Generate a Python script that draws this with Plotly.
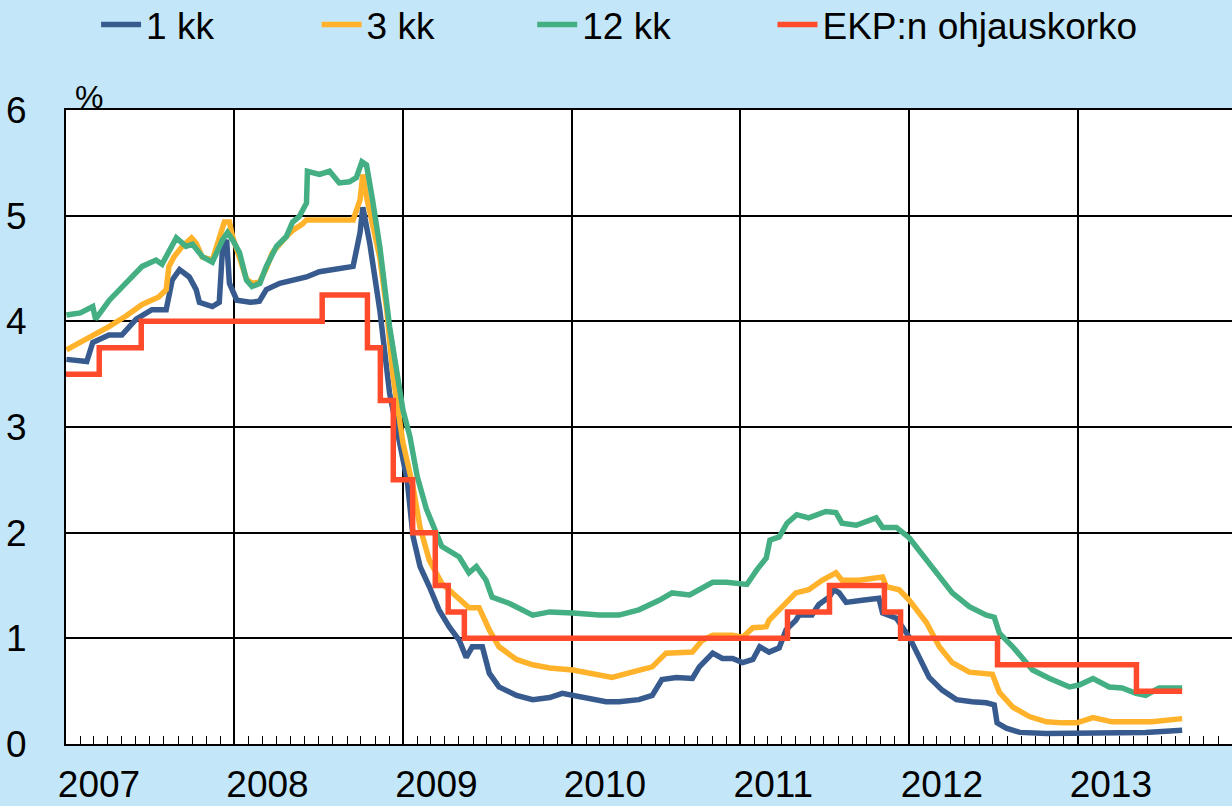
import plotly.graph_objects as go

# ---- data ----
d_1kk = ["2007-01-02","2007-02-15","2007-02-28","2007-04-04","2007-05-02","2007-06-02","2007-07-06","2007-08-06",
         "2007-08-19","2007-09-04","2007-09-25","2007-10-10","2007-10-17","2007-11-14","2007-11-29","2007-12-06",
         "2007-12-15","2007-12-21","2008-01-06","2008-02-04","2008-02-24","2008-03-10","2008-04-08","2008-05-06",
         "2008-06-05","2008-07-03","2008-08-09","2008-09-14","2008-09-29","2008-10-05","2008-10-20","2008-11-11",
         "2008-12-02","2008-12-24","2009-01-09","2009-01-22","2009-02-06","2009-02-26","2009-03-19","2009-04-10",
         "2009-05-02","2009-05-17","2009-05-30","2009-06-21","2009-07-06","2009-07-27","2009-09-03","2009-10-08",
         "2009-11-14","2009-12-11","2010-01-03","2010-02-03","2010-03-16","2010-04-13","2010-05-26","2010-06-24",
         "2010-07-15","2010-08-15","2010-09-19","2010-10-04","2010-11-02","2010-11-23","2010-12-15","2011-01-06",
         "2011-01-28","2011-02-12","2011-03-04","2011-03-26","2011-04-10","2011-05-01","2011-05-08","2011-06-05",
         "2011-06-20","2011-07-12","2011-07-23","2011-08-03","2011-08-18","2011-09-22","2011-10-28","2011-11-05",
         "2011-12-05","2012-01-02","2012-01-24","2012-02-14","2012-03-13","2012-04-13","2012-05-17","2012-06-17",
         "2012-07-04","2012-07-10","2012-07-30","2012-08-28","2012-10-25","2013-01-05","2013-03-16","2013-05-28",
         "2013-08-15"]
v_1kk = [3.64,3.62,3.80,3.87,3.87,4.02,4.11,4.11,
         4.39,4.49,4.42,4.30,4.18,4.14,4.18,4.68,
         4.77,4.36,4.20,4.18,4.19,4.30,4.36,4.39,
         4.42,4.47,4.49,4.52,4.84,5.08,4.74,4.10,
         3.32,2.81,2.50,1.96,1.68,1.49,1.27,1.11,
         0.98,0.82,0.92,0.92,0.67,0.54,0.46,0.42,
         0.44,0.48,0.46,0.44,0.40,0.40,0.42,0.46,
         0.61,0.63,0.62,0.73,0.86,0.81,0.81,0.77,
         0.80,0.92,0.87,0.91,1.08,1.17,1.22,1.22,
         1.32,1.39,1.46,1.43,1.34,1.36,1.38,1.24,
         1.19,1.01,0.80,0.63,0.51,0.42,0.40,0.39,
         0.37,0.20,0.15,0.11,0.10,0.10,0.11,0.11,
         0.13]

d_3kk = ["2007-01-02","2007-02-15","2007-04-04","2007-05-11","2007-06-15","2007-07-21","2007-08-06","2007-08-12",
         "2007-08-23","2007-09-10","2007-09-30","2007-10-10","2007-10-23","2007-11-14","2007-11-29","2007-12-10",
         "2007-12-21","2007-12-28","2008-01-12","2008-01-27","2008-02-08","2008-02-24","2008-03-10","2008-03-23",
         "2008-04-22","2008-05-06","2008-05-27","2008-06-05","2008-07-03","2008-09-14","2008-09-29","2008-10-05",
         "2008-10-13","2008-10-26","2008-11-11","2008-11-26","2008-12-09","2008-12-31","2009-01-22","2009-02-06",
         "2009-02-26","2009-03-25","2009-04-25","2009-05-23","2009-06-14","2009-07-06","2009-07-27","2009-09-03",
         "2009-10-08","2009-11-14","2010-01-03","2010-02-15","2010-03-29","2010-05-11","2010-06-24","2010-07-24",
         "2010-08-28","2010-09-19","2010-10-10","2010-11-02","2010-12-15","2011-01-06","2011-01-28","2011-02-26",
         "2011-03-04","2011-04-01","2011-05-01","2011-05-29","2011-06-27","2011-07-27","2011-08-09","2011-09-15",
         "2011-10-22","2011-11-05","2011-11-13","2011-12-11","2012-01-02","2012-02-08","2012-03-07","2012-04-04",
         "2012-05-11","2012-06-30","2012-07-15","2012-08-13","2012-09-18","2012-10-25","2012-11-29","2012-12-30",
         "2013-02-03","2013-03-16","2013-04-28","2013-06-11","2013-08-15"]
v_3kk = [3.73,3.83,3.95,4.05,4.16,4.23,4.30,4.52,
         4.61,4.71,4.79,4.74,4.61,4.58,4.77,4.94,
         4.94,4.80,4.60,4.40,4.36,4.37,4.50,4.65,
         4.80,4.86,4.92,4.96,4.96,4.96,5.15,5.39,
         5.18,4.90,4.60,4.10,3.50,2.85,2.43,2.05,
         1.74,1.52,1.39,1.29,1.29,1.08,0.92,0.80,
         0.75,0.72,0.70,0.67,0.63,0.68,0.73,0.86,
         0.87,0.87,0.98,1.03,1.03,1.01,1.10,1.11,
         1.17,1.30,1.43,1.46,1.55,1.62,1.55,1.55,
         1.58,1.58,1.49,1.46,1.36,1.15,0.92,0.77,
         0.68,0.66,0.49,0.35,0.26,0.21,0.20,0.20,
         0.25,0.21,0.21,0.21,0.24]

d_12kk = ["2007-01-02","2007-02-01","2007-02-28","2007-03-06","2007-04-05","2007-05-17","2007-06-15","2007-07-15",
          "2007-07-28","2007-08-28","2007-09-18","2007-10-02","2007-10-24","2007-11-14","2007-12-06","2007-12-17",
          "2007-12-28","2008-01-12","2008-01-27","2008-02-08","2008-02-25","2008-03-10","2008-04-01","2008-04-22",
          "2008-05-06","2008-05-20","2008-06-05","2008-06-07","2008-07-03","2008-07-25","2008-08-15","2008-09-06",
          "2008-09-21","2008-10-03","2008-10-13","2008-10-26","2008-11-11","2008-12-02","2008-12-31","2009-01-15",
          "2009-01-31","2009-02-20","2009-03-25","2009-05-02","2009-05-23","2009-06-08","2009-06-29","2009-07-12",
          "2009-08-19","2009-10-08","2009-11-14","2010-01-03","2010-03-01","2010-04-13","2010-05-26","2010-07-09",
          "2010-08-06","2010-09-13","2010-10-03","2010-11-02","2010-12-02","2010-12-23","2011-01-15","2011-02-06",
          "2011-02-26","2011-03-06","2011-03-26","2011-04-12","2011-05-03","2011-05-29","2011-07-05","2011-07-27",
          "2011-08-09","2011-09-09","2011-10-22","2011-11-05","2011-12-05","2012-01-02","2012-02-08","2012-03-07",
          "2012-04-04","2012-05-11","2012-06-17","2012-07-04","2012-07-15","2012-08-13","2012-09-25","2012-11-01",
          "2012-12-14","2013-01-05","2013-02-03","2013-03-10","2013-04-07","2013-05-07","2013-05-28","2013-06-26",
          "2013-08-15"]
v_12kk = [4.06,4.08,4.14,4.02,4.20,4.39,4.52,4.58,
          4.54,4.79,4.71,4.73,4.61,4.56,4.77,4.84,
          4.77,4.65,4.39,4.33,4.36,4.52,4.71,4.80,
          4.94,4.99,5.12,5.42,5.39,5.42,5.31,5.32,
          5.36,5.51,5.48,5.15,4.70,3.95,3.16,2.91,
          2.53,2.22,1.87,1.77,1.62,1.68,1.55,1.39,
          1.33,1.22,1.25,1.24,1.22,1.22,1.27,1.36,
          1.43,1.41,1.46,1.53,1.53,1.52,1.51,1.65,
          1.76,1.93,1.96,2.09,2.17,2.14,2.20,2.19,
          2.09,2.07,2.14,2.05,2.05,1.95,1.74,1.58,
          1.43,1.30,1.22,1.20,1.05,0.92,0.70,0.62,
          0.54,0.56,0.62,0.54,0.53,0.48,0.46,0.53,
          0.53]

d_ekp = ["2007-01-01","2007-03-14","2007-06-13","2008-07-09","2008-10-15","2008-11-12","2008-12-10","2009-01-21",
         "2009-03-11","2009-04-08","2009-05-13","2011-04-13","2011-07-13","2011-11-09","2011-12-14","2012-07-11",
         "2013-05-08","2013-08-15"]
v_ekp = [3.50,3.75,4.00,4.25,3.75,3.25,2.50,2.00,
         1.50,1.25,1.00,1.25,1.50,1.25,1.00,0.75,
         0.50,0.50]

series_names = ["1 kk", "3 kk", "12 kk", "EKP:n ohjauskorko"]
y_ticks = [0, 1, 2, 3, 4, 5, 6]
y_unit = "%"

FONT = "Liberation Sans, Arial, sans-serif"
colors = ["#385B8F", "#FFB22A", "#43AF82", "#FF4B2B"]
legend_ids = ["legend", "legend2", "legend3", "legend4"]
legend_x = [0.078, 0.257, 0.432, 0.627]

series = [(d_1kk, v_1kk, "linear"), (d_3kk, v_3kk, "linear"),
          (d_12kk, v_12kk, "linear"), (d_ekp, v_ekp, "hv")]

fig = go.Figure()
for i, (dx, vy, shp) in enumerate(series):
    fig.add_trace(go.Scatter(x=dx, y=vy, name=series_names[i], mode="lines",
                             legend=legend_ids[i],
                             line=dict(color=colors[i], width=5.5, shape=shp)))

legend_common = dict(orientation="h", xref="container", yref="container",
                     y=0.969, xanchor="left", yanchor="middle",
                     bgcolor="rgba(0,0,0,0)", font=dict(size=37, family=FONT, color="black"),
                     itemwidth=40)
layout_legends = {lid: dict(legend_common, x=legend_x[i]) for i, lid in enumerate(legend_ids)}

fig.update_layout(
    width=1232, height=806,
    margin=dict(l=66, r=0, t=110, b=62),
    paper_bgcolor="#C3E7F8",
    plot_bgcolor="white",
    font=dict(family=FONT, size=37, color="black"),
    showlegend=True,
    xaxis=dict(
        type="date", range=["2007-01-01", "2013-12-01"], automargin=False,
        tick0="2007-01-01", dtick="M12", tickformat="%Y",
        showgrid=True, gridcolor="black", gridwidth=1.5,
        ticks="", ticklabelshift=33, ticklabelstandoff=7,
        tickfont=dict(size=37, family=FONT, color="black"),
        showline=True, linecolor="black", linewidth=2, mirror=True,
        zeroline=False,
        minor=dict(tick0="2007-01-01", dtick="M1", ticks="inside", ticklen=8,
                   tickcolor="black", tickwidth=1.3, showgrid=False),
    ),
    yaxis=dict(
        range=[0, 6], tickvals=y_ticks, automargin=False,
        showgrid=True, gridcolor="black", gridwidth=1.5,
        ticks="", ticklabelstandoff=30,
        tickfont=dict(size=37, family=FONT, color="black"),
        showline=True, linecolor="black", linewidth=2,
        zeroline=False,
    ),
    annotations=[dict(text=y_unit, xref="paper", yref="paper", x=0, y=1,
                      xanchor="left", yanchor="bottom", xshift=7, yshift=-7,
                      showarrow=False, font=dict(size=32, family=FONT, color="black"))],
    **layout_legends,
)

fig.write_html("out.html", config={"displayModeBar": False},
               post_script="document.body.style.margin='0';")
